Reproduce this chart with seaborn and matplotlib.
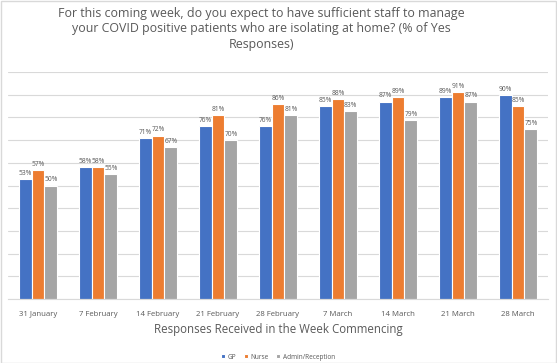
import pandas as pd
import matplotlib.pyplot as plt
import seaborn as sns
from matplotlib.patches import Rectangle

weeks = ['31 January', '7 February', '14 February', '21 February', '28 February',
         '7 March', '14 March', '21 March', '28 March']
gp = [53, 58, 71, 76, 76, 85, 87, 89, 90]
nurse = [57, 58, 72, 81, 86, 88, 89, 91, 85]
admin = [50, 55, 67, 70, 81, 83, 79, 87, 75]
roles = ['GP', 'Nurse', 'Admin/Reception']
colors = ['#4472C4', '#ED7D31', '#A5A5A5']

df = pd.DataFrame({'Week': weeks * 3,
                   'Role': [r for r in roles for _ in weeks],
                   'Value': gp + nurse + admin})

sns.set_style('white')
plt.rcParams['font.family'] = ['Open Sans', 'DejaVu Sans']

fig = plt.figure(figsize=(5.57, 3.63), dpi=100)
ax = fig.add_axes([8/557, 1 - 299/363, 540/557, 227/363])

sns.barplot(data=df, x='Week', y='Value', hue='Role', palette=colors,
            saturation=1, width=0.64, edgecolor='white', linewidth=0.8, ax=ax)

for cont in ax.containers:
    ax.bar_label(cont, labels=[f'{v:.0f}%' for v in cont.datavalues],
                 fontsize=4.8, color='#595959', padding=1.5)

ax.set_ylim(0, 100)
ax.set_yticks(range(0, 101, 10))
ax.set_yticklabels([])
ax.tick_params(axis='y', length=0)
ax.tick_params(axis='x', length=0, labelsize=5.6, labelcolor='#595959', pad=9)
ax.yaxis.grid(True, color='#D9D9D9', linewidth=0.8)
ax.set_axisbelow(True)
for s in ['top', 'right', 'left']:
    ax.spines[s].set_visible(False)
ax.spines['bottom'].set_color('#D9D9D9')
ax.set_ylabel('')
ax.set_xlabel('Responses Received in the Week Commencing', fontsize=8.3,
              color='#595959', labelpad=3)

ax.legend(loc='upper center', bbox_to_anchor=(0.5, -0.215), ncol=3, frameon=False,
          fontsize=4.7, handlelength=0.6, handleheight=0.6, columnspacing=1.2,
          handletextpad=0.4, labelcolor='#595959')

fig.text(0.469, 0.982, 'For this coming week, do you expect to have sufficient staff to manage\n'
         'your COVID positive patients who are isolating at home? (% of Yes\nResponses)',
         ha='center', va='top', fontsize=8.9, color='#595959', linespacing=1.25)

fig.patches.append(Rectangle((0.001, 0.001), 0.997, 0.997, transform=fig.transFigure,
                             fill=False, edgecolor='#D9D9D9', linewidth=1))

fig.savefig('out.png', dpi=100)
